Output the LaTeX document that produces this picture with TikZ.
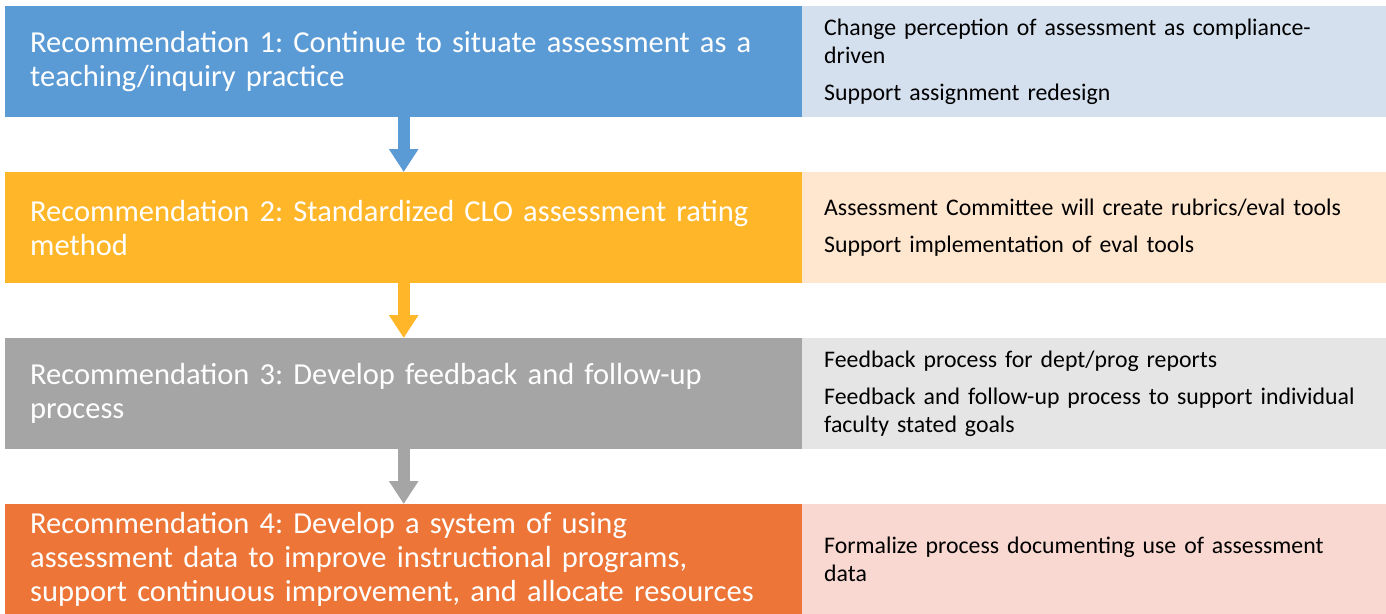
\documentclass[tikz,border=0pt]{standalone}
\usepackage{fontspec}
\setmainfont{Carlito}
\usetikzlibrary{arrows.meta}
\frenchspacing
\definecolor{c1}{HTML}{5B9BD5}
\definecolor{l1}{HTML}{D5E0EF}
\definecolor{c2}{HTML}{FFB628}
\definecolor{l2}{HTML}{FFE6CE}
\definecolor{c3}{HTML}{A5A5A5}
\definecolor{l3}{HTML}{E5E5E5}
\definecolor{c4}{HTML}{EC7537}
\definecolor{l4}{HTML}{F8D8D0}
\tikzset{
  recbox/.style={fill=#1, draw=none, anchor=north west, minimum width=797pt, minimum height=111pt,
    inner xsep=25pt, inner ysep=0pt, text width=747pt, align=left, text=white,
    font=\fontsize{30.5}{34}\selectfont},
  actbox/.style={fill=#1, draw=none, anchor=north west, minimum width=584pt, minimum height=111pt,
    inner xsep=22pt, inner ysep=0pt, text width=560pt, align=left, text=black,
    font=\fontsize{23.8}{28}\selectfont},
  flow/.style={draw=#1, line width=12pt, -{Triangle[width=28pt 0 0, length=23pt 0 0]}}
}
\begin{document}
\begin{tikzpicture}[x=1pt,y=-1pt]
\useasboundingbox (0,0) rectangle (1386,613);
\clip (0,0) rectangle (1386,613);
\node[recbox=c1] (r1) at (5,6) {Recommendation 1: Continue to situate assessment as a\\teaching/inquiry practice};
\node[recbox=c2] (r2) at (5,172) {Recommendation 2: Standardized CLO assessment rating\\method};
\node[recbox=c3] (r3) at (5,338) {Recommendation 3: Develop feedback and follow-up\\process};
\node[recbox=c4] (r4) at (5,504) {Recommendation 4: Develop a system of using\\assessment data to improve instructional programs,\\support continuous improvement, and allocate resources};
\node[actbox=l1] (a1) at (802,6) {Change perception of assessment as compliance-\\driven\\[9pt]Support assignment redesign};
\node[actbox=l2] (a2) at (802,172) {Assessment Committee will create rubrics/eval tools\\[9pt]Support implementation of eval tools};
\node[actbox=l3] (a3) at (802,338) {Feedback process for dept/prog reports\\[9pt]Feedback and follow-up process to support individual\\faculty stated goals};
\node[actbox=l4] (a4) at (802,504) {Formalize process documenting use of assessment\\data};
\draw[flow=c1] (r1.south) -- (r2.north);
\draw[flow=c2] (r2.south) -- (r3.north);
\draw[flow=c3] (r3.south) -- (r4.north);
\end{tikzpicture}
\end{document}
